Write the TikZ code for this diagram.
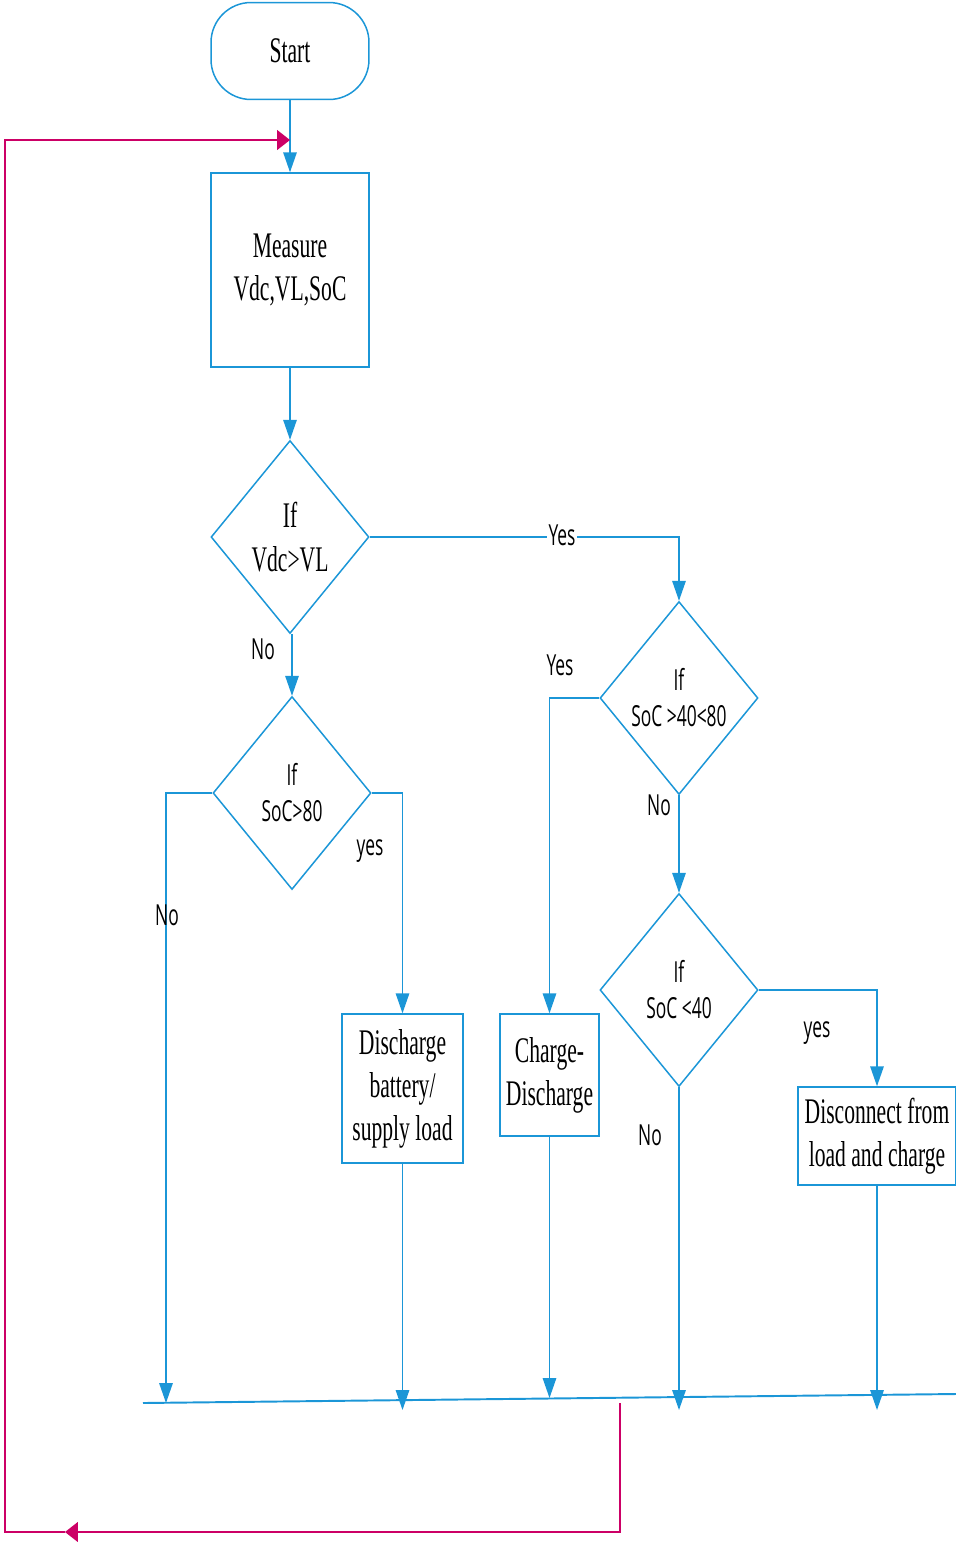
\documentclass[tikz,border=0pt]{standalone}
\usepackage{fontspec}
\setmainfont{Liberation Serif}[FakeStretch=0.6]
\newfontfamily\tagfont{Open Sans}[FakeStretch=0.6]
\usetikzlibrary{shapes.geometric,arrows.meta}
\definecolor{flowblue}{RGB}{27,150,215}
\definecolor{loopred}{RGB}{204,0,102}

\begin{document}
\begin{tikzpicture}[x = 0.02cm, y = -0.02cm,
	box/.style = {draw = flowblue, line width = 0.85pt, align = center, inner sep = 0pt, font = \fontsize{20.5}{24.5}\selectfont},
	decision/.style = {draw = flowblue, line width = 0.85pt, shape = diamond, inner sep = 0pt, minimum width = 3.16cm, minimum height = 3.86cm},
	line/.style = {draw = flowblue, line width = 0.85pt},
	flow/.style = {line, -{Triangle[length = 0.4cm, width = 0.27cm]}},
	back/.style = {draw = loopred, line width = 0.85pt, -{Triangle[length = 0.26cm, width = 0.4cm]}},
	tag/.style = {font = \tagfont\fontsize{16.5}{20.5}\selectfont, inner sep = 1pt}]
	\useasboundingbox (0, 0) rectangle (956, 1542);
	% boxes
	\node[box, rounded corners = 0.8cm, minimum width = 3.16cm, minimum height = 1.94cm] (start) at (290, 51) {Start};
	\node[box, minimum width = 3.16cm, minimum height = 3.88cm] (measure) at (290, 270) {Measure\\Vdc,VL,SoC};
	\node[box, minimum width = 2.42cm, minimum height = 2.98cm] (dis) at (402.5, 1088.5) {Discharge\\battery/\\supply load};
	\node[box, minimum width = 1.98cm, minimum height = 2.44cm] (chg) at (549.5, 1075) {Charge-\\Discharge};
	\node[box, minimum width = 3.16cm, minimum height = 1.96cm] (dcn) at (877, 1136) {Disconnect from\\load and charge};
	% decisions
	\node[decision, label = {[align = center, font = \fontsize{20.5}{25.5}\selectfont]center:If\\Vdc>VL}] (d1) at (290, 537) {};
	\node[decision, label = {[align = center, tag]center:If\\SoC>80}] (d4) at (292, 793) {};
	\node[decision, label = {[align = center, tag]center:If\\SoC >40<80}] (d2) at (679, 698) {};
	\node[decision, label = {[align = center, tag]center:If\\SoC <40}] (d3) at (679, 990) {};
	% bus and loop points
	\coordinate (busL) at (143, 1403);
	\coordinate (busR) at (956, 1394);
	\coordinate (tap) at (620, 1403);
	\coordinate (turn) at (65, 1532);
	\coordinate (entry) at (290, 140);
	\foreach \n/\x/\y in {b1/166/1403, b2/401/1410, b3/550/1398, b4/679/1410, b5/877/1410}{
		\coordinate (\n) at (\x, \y);}
	% connectors
	\draw[flow] (start) -- (measure);
	\draw[flow] (measure) -- (d1);
	\draw[flow] (d1.east) -| (d2.north);
	\draw[flow] (d4.north |- d1.south) -- (d4.north);
	\draw[flow] (d4.west) -| (b1);
	\draw[flow] (d4.east) -| (dis.north);
	\draw[flow] (d2.west) -| (chg.north);
	\draw[flow] (d2.south) -- (d3.north);
	\draw[flow] (d3.east) -| (dcn.north);
	\foreach \a/\b in {dis/b2, chg/b3, d3/b4, dcn/b5}{
		\draw[flow] (\a.south) -- (\a.south |- \b);}
	\draw[line, line width = 1.1pt] (busL) -- (busR);
	\draw[back] (tap) |- (turn);
	\draw[back] (turn) -| (5, 1000) |- (entry);
	% labels
	\node[tag, fill = white] (yes1) at (562, 535) {Yes};
	\node[tag] (no1) at (263, 649) {No};
	\node[tag] (yes2) at (560, 665) {Yes};
	\node[tag] (no2) at (659, 805) {No};
	\node[tag] (yes3) at (370, 851) {yes};
	\node[tag] (no3) at (167, 915) {No};
	\node[tag] (yes4) at (817, 1033) {yes};
	\node[tag] (no4) at (650, 1135) {No};
\end{tikzpicture}
\end{document}
